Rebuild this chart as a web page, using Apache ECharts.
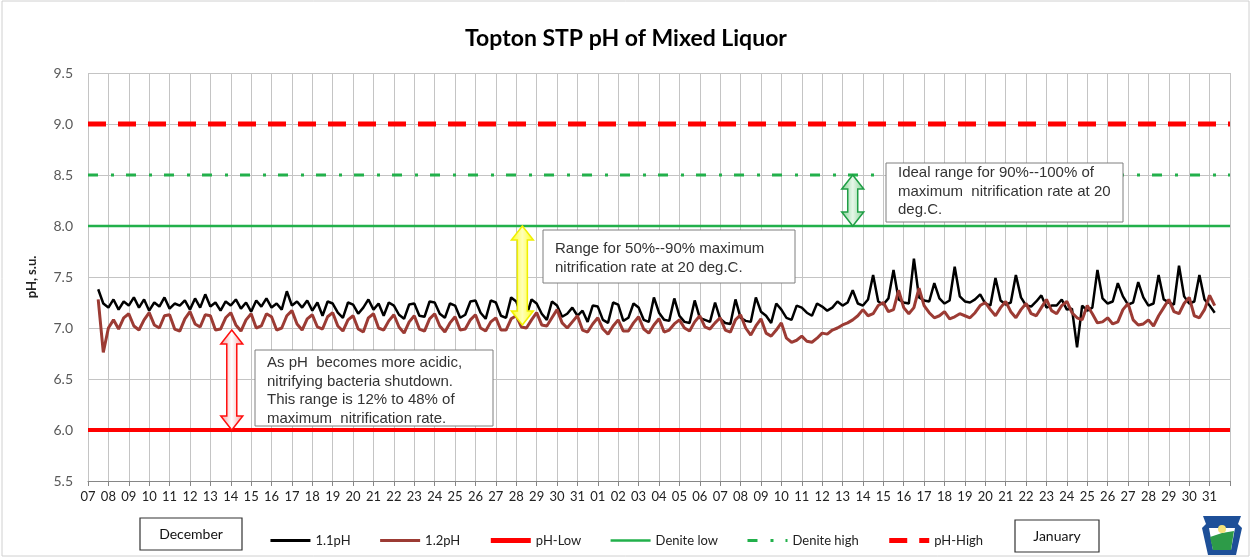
<!DOCTYPE html>
<html>
<head>
<meta charset="utf-8">
<script src="https://cdn.jsdelivr.net/npm/echarts@6/dist/echarts.min.js"></script>
<style>
  html, body { margin: 0; padding: 0; background: #fff; }
  #main { width: 1252px; height: 558px; }
</style>
</head>
<body>
<div id="main"></div>
<script>
// tick labels: Dec 07 .. Dec 31, Jan 01 .. Jan 31
const dayLabels = ['07','08','09','10','11','12','13','14','15','16','17','18','19','20','21','22','23','24','25','26','27','28','29','30','31',
  '01','02','03','04','05','06','07','08','09','10','11','12','13','14','15','16','17','18','19','20','21','22','23','24','25','26','27','28','29','30','31'];

// readings every 6 h, starting at day 0.5 (Dec 07 noon); one row per day
const sampleStart = 0.5;
const sampleStep = 0.25;

const ph11 = [
  7.38, 7.24, 7.20, 7.28,
  7.18, 7.26, 7.22, 7.30,
  7.20, 7.28, 7.17, 7.25,
  7.21, 7.30, 7.19, 7.24,
  7.22, 7.27, 7.18, 7.29,
  7.20, 7.33, 7.21, 7.25,
  7.17, 7.26, 7.22, 7.28,
  7.19, 7.25, 7.16, 7.27,
  7.21, 7.29, 7.20, 7.24,
  7.18, 7.36, 7.22, 7.26,
  7.20, 7.27, 7.17, 7.25,
  7.12, 7.26, 7.24, 7.15,
  7.10, 7.25, 7.23, 7.14,
  7.20, 7.28, 7.18, 7.24,
  7.12, 7.25, 7.22, 7.13,
  7.09, 7.23, 7.24, 7.12,
  7.11, 7.26, 7.25, 7.14,
  7.10, 7.24, 7.22, 7.10,
  7.13, 7.26, 7.27, 7.15,
  7.09, 7.27, 7.25, 7.12,
  7.10, 7.30, 7.26, 7.13,
  7.12, 7.28, 7.24, 7.14,
  7.08, 7.26, 7.22, 7.11,
  7.14, 7.20, 7.12, 7.17,
  7.06, 7.22, 7.21, 7.08,
  7.05, 7.25, 7.23, 7.07,
  7.10, 7.24, 7.20, 7.08,
  7.06, 7.30, 7.15, 7.08,
  7.07, 7.29, 7.12, 7.06,
  7.05, 7.27, 7.10, 7.08,
  7.06, 7.25, 7.09, 7.05,
  7.04, 7.28, 7.10, 7.07,
  7.06, 7.30, 7.16, 7.12,
  7.05, 7.24, 7.18, 7.10,
  7.08, 7.22, 7.20, 7.15,
  7.12, 7.24, 7.21, 7.17,
  7.20, 7.26, 7.22, 7.25,
  7.37, 7.24, 7.22, 7.28,
  7.52, 7.26, 7.23, 7.29,
  7.57, 7.28, 7.25, 7.24,
  7.68, 7.30, 7.27, 7.26,
  7.44, 7.29, 7.24, 7.27,
  7.60, 7.31, 7.26, 7.25,
  7.28, 7.33, 7.24, 7.22,
  7.49, 7.27, 7.23, 7.25,
  7.52, 7.30, 7.22, 7.21,
  7.26, 7.32, 7.20, 7.22,
  7.22, 7.28, 7.18, 7.19,
  6.81, 7.22, 7.17, 7.20,
  7.57, 7.29, 7.24, 7.26,
  7.44, 7.31, 7.23, 7.25,
  7.45, 7.30, 7.22, 7.24,
  7.52, 7.28, 7.25, 7.23,
  7.61, 7.31, 7.24, 7.26,
  7.52, 7.28, 7.22, 7.15
];

const ph12 = [
  7.28, 6.76, 7.00, 7.08,
  6.99, 7.10, 7.14, 7.02,
  6.98, 7.08, 7.15, 7.03,
  7.00, 7.12, 7.13, 6.99,
  6.97, 7.09, 7.16, 7.04,
  7.01, 7.13, 7.12, 6.98,
  6.99, 7.10, 7.15, 7.03,
  6.97, 7.08, 7.14, 7.00,
  7.02, 7.14, 7.11, 6.98,
  7.00, 7.12, 7.17, 7.04,
  6.98, 7.09, 7.13, 7.01,
  6.99, 7.11, 7.15, 7.02,
  6.97, 7.08, 7.12, 6.99,
  6.96, 7.10, 7.14, 7.00,
  6.98, 7.07, 7.13, 7.01,
  6.95, 7.06, 7.12, 6.99,
  6.97, 7.09, 7.14, 7.02,
  6.96, 7.05, 7.11, 6.98,
  6.99, 7.08, 7.13, 7.00,
  6.97, 7.06, 7.10, 6.98,
  6.98, 7.09, 7.12, 7.01,
  7.00, 7.08, 7.15, 7.03,
  7.02, 7.10, 7.18, 7.05,
  7.00, 7.06, 7.12, 6.98,
  6.96, 7.04, 7.10, 6.99,
  6.94, 7.02, 7.08, 6.97,
  6.97, 7.05, 7.11, 6.99,
  6.95, 7.03, 7.09, 6.96,
  6.98, 7.04, 7.08, 7.00,
  6.97, 7.06, 7.12, 7.01,
  6.99, 7.05, 7.10, 6.98,
  6.96, 7.08, 7.13, 7.00,
  6.93, 7.02, 7.09, 6.95,
  6.92, 6.98, 7.05, 6.90,
  6.86, 6.88, 6.92, 6.87,
  6.86, 6.90, 6.95, 6.94,
  6.98, 7.00, 7.03, 7.05,
  7.08, 7.12, 7.18, 7.12,
  7.14, 7.22, 7.25, 7.16,
  7.18, 7.37, 7.20, 7.14,
  7.20, 7.39, 7.22, 7.15,
  7.10, 7.12, 7.16, 7.09,
  7.11, 7.14, 7.12, 7.10,
  7.15, 7.22, 7.25, 7.18,
  7.12, 7.20, 7.26, 7.16,
  7.10, 7.18, 7.24, 7.14,
  7.12, 7.20, 7.28, 7.17,
  7.14, 7.22, 7.26, 7.15,
  7.10, 7.08, 7.22, 7.14,
  7.05, 7.06, 7.10, 7.04,
  7.06, 7.18, 7.24, 7.08,
  7.03, 7.04, 7.08, 7.02,
  7.12, 7.20, 7.28, 7.16,
  7.14, 7.24, 7.30, 7.12,
  7.10, 7.18, 7.32, 7.22
];

// reference levels
const phLow = 6.0;
const deniteLow = 8.0;
const deniteHigh = 8.5;
const phHigh = 9.0;
const xSpan = [0, 56];

function toPoints(values) {
  return values.map((v, i) => [sampleStart + i * sampleStep, v]);
}
function level(v) {
  return [[xSpan[0], v], [xSpan[1], v]];
}

const chart = echarts.init(document.getElementById('main'));

const option = {
  animation: false,
  backgroundColor: '#fff',
  title: {
    text: 'Topton STP pH of Mixed Liquor',
    left: 'center',
    top: 22,
    textStyle: { fontFamily: 'Lato', fontWeight: 'bold', fontSize: 23, color: '#000' }
  },
  grid: { left: 88, right: 22, top: 73, bottom: 77 },
  legend: {
    left: 'center',
    top: 529,
    itemWidth: 40,
    itemHeight: 12,
    itemGap: 28,
    itemStyle: { opacity: 0 },
    textStyle: { fontFamily: 'Lato', fontSize: 13, color: '#222' },
    data: [
      { name: '1.1pH', lineStyle: { width: 3 } },
      { name: '1.2pH', lineStyle: { width: 3 } },
      { name: 'pH-Low', lineStyle: { width: 5 } },
      { name: 'Denite low', lineStyle: { width: 2.5 } },
      { name: 'Denite high', lineStyle: { width: 3 } },
      { name: 'pH-High', lineStyle: { width: 5 } }
    ]
  },
  xAxis: {
    type: 'value',
    min: xSpan[0],
    max: xSpan[1],
    interval: 1,
    axisLine: { lineStyle: { color: '#868686' } },
    axisTick: { show: true, length: 5, lineStyle: { color: '#868686' } },
    axisLabel: {
      formatter: v => dayLabels[Math.round(v)] || '',
      fontFamily: 'Lato', fontSize: 13, color: '#222', margin: 9
    },
    splitLine: { show: true, lineStyle: { color: '#c4c4c4' } }
  },
  yAxis: {
    type: 'value',
    min: 5.5,
    max: 9.5,
    interval: 0.5,
    name: 'pH, s.u.',
    nameLocation: 'middle',
    nameGap: 50,
    nameTextStyle: { fontFamily: 'Lato', fontWeight: 'bold', fontSize: 13, color: '#222' },
    axisLine: { show: false },
    axisTick: { show: false },
    axisLabel: { formatter: v => v.toFixed(1), fontFamily: 'Lato', fontSize: 14, color: '#595959', margin: 15 },
    splitLine: { lineStyle: { color: '#c4c4c4' } }
  },
  series: [
    { name: '1.1pH', type: 'line', symbol: 'none', color: '#000',
      lineStyle: { color: '#000', width: 2.5 }, data: toPoints(ph11) },
    { name: '1.2pH', type: 'line', symbol: 'none', color: '#9c3b34',
      lineStyle: { color: '#9c3b34', width: 3 }, data: toPoints(ph12) },
    { name: 'pH-Low', type: 'line', symbol: 'none', color: '#ff0000',
      lineStyle: { color: '#ff0000', width: 4 }, data: level(phLow) },
    { name: 'Denite low', type: 'line', symbol: 'none', color: '#22b04b',
      lineStyle: { color: '#22b04b', width: 2.5 }, data: level(deniteLow) },
    { name: 'Denite high', type: 'line', symbol: 'none', color: '#22b04b',
      lineStyle: { color: '#22b04b', width: 3, type: [10, 13, 3, 12] }, data: level(deniteHigh) },
    { name: 'pH-High', type: 'line', symbol: 'none', color: '#ff0000',
      lineStyle: { color: '#ff0000', width: 5, type: [18, 12] }, data: level(phHigh) }
  ]
};
chart.setOption(option);

// annotations: double arrows anchored to data values, plus text boxes
const arrows = [
  { day: 7.05, from: 6.0, to: 6.98, stroke: '#ff1010', edge: '#f59a9a', mid: '#ffffff' },
  { day: 21.3, from: 8.0, to: 7.03, stroke: '#f0f000', edge: '#ffff20', mid: '#ffffb8' },
  { day: 37.5, from: 8.5, to: 8.0, stroke: '#1f9e45', edge: '#7fd190', mid: '#e6f7e9' }
];

function arrowShape(a) {
  const top = chart.convertToPixel({ gridIndex: 0 }, [a.day, Math.max(a.from, a.to)]);
  const bot = chart.convertToPixel({ gridIndex: 0 }, [a.day, Math.min(a.from, a.to)]);
  const x = top[0], y1 = top[1], y2 = bot[1];
  const hw = 11, sw = 5, hh = 14;
  return {
    type: 'polygon',
    z: 10,
    shape: { points: [
      [x, y1], [x + hw, y1 + hh], [x + sw, y1 + hh], [x + sw, y2 - hh], [x + hw, y2 - hh],
      [x, y2], [x - hw, y2 - hh], [x - sw, y2 - hh], [x - sw, y1 + hh], [x - hw, y1 + hh]
    ] },
    style: {
      fill: { type: 'linear', x: 0, y: 0, x2: 1, y2: 0,
        colorStops: [{ offset: 0, color: a.edge }, { offset: 0.5, color: a.mid }, { offset: 1, color: a.edge }] },
      stroke: a.stroke,
      lineWidth: 1.5
    }
  };
}

function noteBox(x, y, w, h, lines, textTop, lineH) {
  return [
    { type: 'rect', z: 10, shape: { x: x, y: y, width: w, height: h },
      style: { fill: '#fff', stroke: '#7f7f7f', lineWidth: 1 } },
    { type: 'text', z: 11, x: x + 12, y: textTop,
      style: { text: lines.join('\n'), fontFamily: 'Liberation Sans', fontSize: 15,
        lineHeight: lineH, fill: '#333' } }
  ];
}

function monthBox(x, y, w, h, label) {
  return [
    { type: 'rect', z: 10, shape: { x: x, y: y, width: w, height: h },
      style: { fill: '#fff', stroke: '#333', lineWidth: 1.2 } },
    { type: 'text', z: 11, x: x + w / 2, y: y + h / 2,
      style: { text: label, fontFamily: 'Lato', fontSize: 14, fill: '#111',
        align: 'center', verticalAlign: 'middle' } }
  ];
}

const graphics = [
  { type: 'rect', z: -1, shape: { x: 2, y: 1, width: 1247, height: 555 },
    style: { fill: 'none', stroke: '#d0d0d0', lineWidth: 1 } }
];
arrows.forEach(a => graphics.push(arrowShape(a)));
graphics.push(...noteBox(886, 163, 237, 59,
  ['Ideal range for 90%--100% of', 'maximum  nitrification rate at 20', 'deg.C.'], 164, 18.5));
graphics.push(...noteBox(543, 230, 252, 53,
  ['Range for 50%--90% maximum', 'nitrification rate at 20 deg.C.'], 239, 19));
graphics.push(...noteBox(255, 350, 238, 76,
  ['As pH  becomes more acidic,', 'nitrifying bacteria shutdown.', 'This range is 12% to 48% of', 'maximum  nitrification rate.'], 354, 18.5));
graphics.push(...monthBox(140, 518, 102, 32, 'December'));
graphics.push(...monthBox(1015, 520, 84, 32, 'January'));

// small keystone logo, bottom right
graphics.push({
  type: 'polygon', z: 10,
  shape: { points: [[1203, 516], [1241, 516], [1238, 524], [1242, 528], [1236, 555], [1208, 555], [1202, 528], [1206, 524]] },
  style: { fill: '#1d4f98' }
});
graphics.push({
  type: 'polygon', z: 11,
  shape: { points: [[1209, 528], [1235, 528], [1231, 550], [1213, 550]] },
  style: { fill: '#ffffff' }
});
graphics.push({
  type: 'polygon', z: 12,
  shape: { points: [[1210, 537], [1222, 533], [1234, 531], [1231, 550], [1213, 550]] },
  style: { fill: '#2d9b48' }
});
graphics.push({
  type: 'circle', z: 12, shape: { cx: 1222, cy: 529, r: 4 },
  style: { fill: '#f4e27a' }
});

chart.setOption({ graphic: graphics });

window.onresize = function () {
  chart.resize();
};
</script>
</body>
</html>
